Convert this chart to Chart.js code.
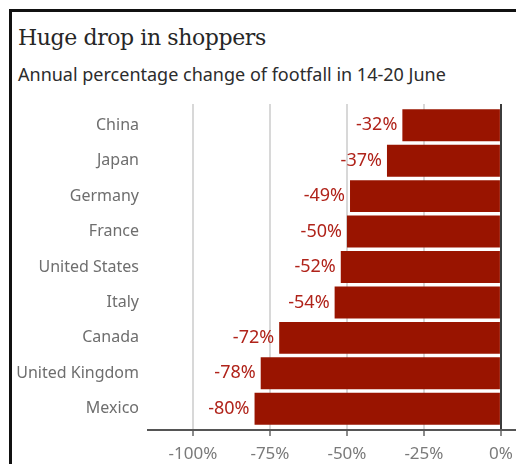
<!DOCTYPE html>
<html>
<head>
<meta charset="utf-8">
<script src="https://cdn.jsdelivr.net/npm/chart.js@4"></script>
<style>
  body { margin: 0; background: #fff; }
  .frame {
    position: absolute; left: 9px; top: 9px; width: 520px; height: 470px;
    border-top: 3px solid #111; border-left: 3px solid #111;
  }
  h1 {
    position: absolute; left: 18px; top: 25px; margin: 0;
    font: 22px "DejaVu Serif", serif; color: #262626; font-weight: normal;
    letter-spacing: -0.4px; white-space: nowrap;
  }
  .sub {
    position: absolute; left: 18px; top: 62px; margin: 0;
    font: 18px "Noto Sans", sans-serif; color: #2c2c2c; white-space: nowrap;
  }
  #chart { position: absolute; left: 0; top: 0; }
</style>
</head>
<body>
<div class="frame"></div>
<h1>Huge drop in shoppers</h1>
<div class="sub">Annual percentage change of footfall in 14-20 June</div>
<canvas id="chart" width="516" height="464"></canvas>
<script>
"use strict";
const countries = ["China", "Japan", "Germany", "France", "United States", "Italy", "Canada", "United Kingdom", "Mexico"];
const change = [-32, -37, -49, -50, -52, -54, -72, -78, -80];
const xTicks = [-100, -75, -50, -25, 0];

// value labels just left of each bar end
const barLabels = {
    id: "barLabels",
    afterDatasetsDraw(chart) {
        const c = chart.ctx;
        const meta = chart.getDatasetMeta(0);
        c.save();
        c.font = "18px 'Noto Sans', sans-serif";
        c.fillStyle = "#b0231a";
        c.textAlign = "right";
        c.textBaseline = "middle";
        meta.data.forEach(function(bar, i) {
            c.fillText(change[i] + "%", bar.x - 5, bar.y);
        });
        c.restore();
    }
};

new Chart(document.getElementById("chart"), {
    type: "bar",
    data: {
        datasets: [{
            data: change.map((v, i) => ({ x: v, y: i })),
            backgroundColor: "#991400",
            borderWidth: 0,
            barPercentage: 0.9,
            categoryPercentage: 1
        }]
    },
    options: {
        indexAxis: "y",
        responsive: false,
        animation: false,
        events: [],
        layout: { padding: { top: 104, right: 0, left: 0, bottom: 0 } },
        scales: {
            x: {
                type: "linear",
                min: -114.6,
                max: 4.9,
                afterBuildTicks: s => { s.ticks = xTicks.map(v => ({ value: v })) },
                afterFit: s => {
                    s.height = 34;
                    s.paddingLeft = 0;
                    s.paddingRight = 0;
                },
                ticks: {
                    padding: 8,
                    color: "#7a7a7a",
                    font: { family: "Noto Sans", size: 17 },
                    callback: v => v + "%"
                },
                grid: {
                    tickLength: 6,
                    tickWidth: 1.5,
                    tickColor: "#666",
                    color: c => c.tick && c.tick.value === 0 ? "#3c3c3c" : "#d8d8d8",
                    lineWidth: 2
                },
                border: { color: "#555", width: 2 }
            },
            y: {
                type: "linear",
                reverse: true,
                offset: false,
                min: -0.6,
                max: 8.6,
                afterBuildTicks: s => { s.ticks = countries.map((c, i) => ({ value: i })) },
                afterFit: s => {
                    s.width = 148;
                    s.paddingTop = 0;
                    s.paddingBottom = 0;
                },
                ticks: {
                    padding: 9,
                    color: "#6e6e6e",
                    font: { family: "Noto Sans", size: 16 },
                    callback: v => countries[v]
                },
                grid: { display: false, drawTicks: false },
                border: { display: false }
            }
        },
        plugins: {
            legend: { display: false },
            tooltip: { enabled: false }
        }
    },
    plugins: [barLabels]
});
</script>
</body>
</html>
